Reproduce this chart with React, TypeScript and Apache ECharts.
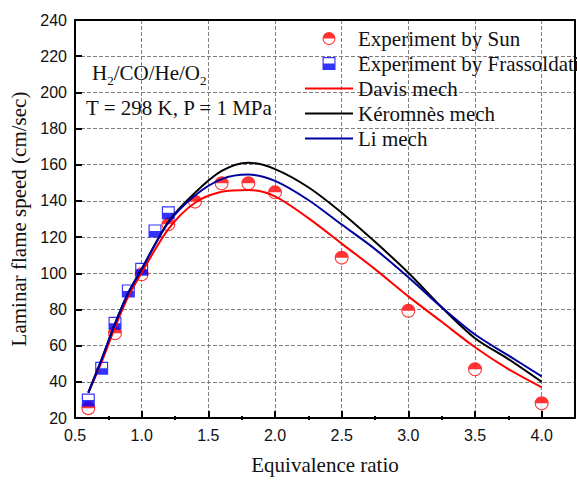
import React, { useEffect, useRef } from "react";
import * as echarts from "echarts";

const xSun = [0.6, 0.8, 1.0, 1.2, 1.4, 1.6, 1.8, 2.0, 2.5, 3.0, 3.5, 4.0];
const ySun = [26.5, 67.7, 100.1, 127.6, 140.1, 150.2, 150.2, 145.2, 109.3, 80.1, 47.9, 29.2];
const xFras = [0.6, 0.7, 0.8, 0.9, 1.0, 1.1, 1.2];
const yFras = [31, 48.4, 73.2, 91, 102.9, 124, 134];
const xModel = [0.6, 0.7, 0.8, 0.9, 1.0, 1.2, 1.4, 1.6, 1.8, 2.0, 2.25, 2.5, 2.75, 3.0, 3.25, 3.5, 3.75, 4.0];
const yDavis = [35, 52, 71, 88, 101, 125, 139.5, 145.5, 146.5, 143, 131, 117, 103, 88, 74, 60, 48, 38];
const yKeromnes = [35, 53.5, 73, 90, 103, 129, 145, 157, 161.5, 158, 148, 134, 118, 101, 82, 65, 53.5, 41];
const yLi = [35, 53.5, 73, 90, 103, 128.5, 143.5, 152.5, 155, 151.5, 141, 127.5, 114, 98.5, 82, 67, 55.5, 44];

const seriesNames = [
  "Experiment by Sun",
  "Experiment by Frassoldati",
  "Davis mech",
  "Kéromnès mech",
  "Li mech",
];

const SERIF = "Liberation Serif";
const SANS = "Liberation Sans";

// top half filled disk + bottom ring
const halfCircle =
  "path://M0,10 A10,10 0 0 1 20,10 A10,10 0 0 1 0,10 L1.6,10 A8.4,8.4 0 0 0 18.4,10 Z";
// bottom half filled square + top frame
const halfSquare =
  "path://M0,0 L20,0 L20,20 L0,20 Z M1.8,1.8 L1.8,10 L18.2,10 L18.2,1.8 Z";
const lineIcon = "path://M0,0 L48,0 L48,2 L0,2 Z";

const zip = (xs: number[], ys: number[]) => xs.map((x, i) => [x, ys[i]]);

const GRID = { left: 75, right: 2, top: 20, bottom: 60 };
const X_RANGE = { type: "value", min: 0.5, max: 4.25, interval: 0.5 };
const Y_RANGE = { type: "value", min: 20, max: 240, interval: 20 };

// layer 1: axes, grid lines, frame
function axesOption() {
  const frame = { show: true, onZero: false, lineStyle: { color: "#000", width: 2 } };
  const dashed = { show: true, lineStyle: { color: "#808080", type: "dashed", width: 1 } };
  return {
    animation: false,
    grid: GRID,
    xAxis: [
      {
        ...X_RANGE,
        name: "Equivalence ratio",
        nameLocation: "middle",
        nameGap: 36,
        nameTextStyle: { fontFamily: SERIF, fontSize: 21, color: "#111" },
        axisLine: frame,
        axisTick: { show: true, inside: true, length: 7, lineStyle: { color: "#000", width: 2 } },
        axisLabel: {
          fontFamily: SANS,
          fontSize: 16,
          color: "#111",
          margin: 9,
          showMaxLabel: false,
          formatter: (v: number) => v.toFixed(1),
        },
        splitLine: dashed,
      },
      {
        ...X_RANGE,
        position: "top",
        axisLine: frame,
        axisTick: { show: false },
        axisLabel: { show: false },
        splitLine: { show: false },
      },
    ],
    yAxis: [
      {
        ...Y_RANGE,
        name: "Laminar flame speed (cm/sec)",
        nameLocation: "middle",
        nameGap: 42,
        nameTextStyle: { fontFamily: SERIF, fontSize: 21, color: "#111" },
        axisLine: frame,
        axisTick: { show: true, inside: true, length: 7, lineStyle: { color: "#000", width: 2 } },
        axisLabel: { fontFamily: SANS, fontSize: 16, color: "#111", margin: 8 },
        splitLine: dashed,
      },
      {
        ...Y_RANGE,
        position: "right",
        axisLine: frame,
        axisTick: { show: false },
        axisLabel: { show: false },
        splitLine: { show: false },
      },
    ],
    series: [
      { type: "scatter", data: zip(xSun, ySun), symbolSize: 0, silent: true },
    ],
  };
}

// layer 2: minor ticks on the x axis
function minorOption() {
  return {
    animation: false,
    backgroundColor: "transparent",
    grid: GRID,
    xAxis: {
      ...X_RANGE,
      axisLine: { show: false },
      axisTick: { show: false, inside: true },
      minorTick: { show: true, splitNumber: 2, length: 4, lineStyle: { color: "#000", width: 2 } },
      axisLabel: { show: false },
      splitLine: { show: false },
    },
    yAxis: { ...Y_RANGE, show: false },
    series: [{ type: "scatter", data: zip(xSun, ySun), symbolSize: 0, silent: true }],
  };
}

// layer 3: data, legend, annotation
function dataOption() {
  const lineSeries = (name: string, ys: number[], color: string) => ({
    name,
    type: "line",
    data: zip(xModel, ys),
    smooth: 0.3,
    symbol: "none",
    showSymbol: false,
    z: 5,
    lineStyle: { color, width: 2 },
    itemStyle: { color },
  });
  return {
    animation: false,
    backgroundColor: "transparent",
    grid: GRID,
    xAxis: { ...X_RANGE, show: false },
    yAxis: { ...Y_RANGE, show: false },
    legend: {
      data: [
        { name: seriesNames[0], icon: halfCircle },
        { name: seriesNames[1], icon: halfSquare },
        { name: seriesNames[2], icon: lineIcon },
        { name: seriesNames[3], icon: lineIcon },
        { name: seriesNames[4], icon: lineIcon },
      ],
      orient: "vertical",
      left: 300,
      top: 23,
      itemWidth: 48,
      itemHeight: 13,
      itemGap: 4,
      textStyle: { fontFamily: SERIF, fontSize: 21, color: "#111", lineHeight: 21 },
    },
    graphic: [
      {
        type: "text",
        left: 92,
        top: 62,
        style: {
          text: "{n|H}{s|2}{n|/CO/He/O}{s|2}",
          rich: {
            n: { fontFamily: SERIF, fontSize: 21, fill: "#111", lineHeight: 28 },
            s: { fontFamily: SERIF, fontSize: 13, fill: "#111", verticalAlign: "bottom", lineHeight: 13 },
          },
        },
      },
      {
        type: "text",
        left: 86,
        top: 97,
        style: { text: "T = 298 K, P = 1 MPa", fontFamily: SERIF, fontSize: 21, fill: "#111" },
      },
    ],
    series: [
      {
        name: "Sun bg",
        type: "scatter",
        data: zip(xSun, ySun),
        symbol: "circle",
        symbolSize: 13,
        itemStyle: { color: "#fff" },
        silent: true,
        z: 2,
      },
      {
        name: "Frassoldati bg",
        type: "scatter",
        data: zip(xFras, yFras),
        symbol: "rect",
        symbolSize: 12,
        itemStyle: { color: "#fff" },
        silent: true,
        z: 2,
      },
      {
        name: seriesNames[0],
        type: "scatter",
        data: zip(xSun, ySun),
        symbol: halfCircle,
        symbolSize: 14,
        itemStyle: { color: "#ff0000" },
        z: 3,
      },
      {
        name: seriesNames[1],
        type: "scatter",
        data: zip(xFras, yFras),
        symbol: halfSquare,
        symbolSize: 13,
        itemStyle: { color: "#0000ff" },
        z: 3,
      },
      lineSeries(seriesNames[2], yDavis, "#ff0000"),
      lineSeries(seriesNames[3], yKeromnes, "#000000"),
      lineSeries(seriesNames[4], yLi, "#0000a0"),
    ],
  };
}

function Layer({ build }: { build: () => any }) {
  const ref = useRef<HTMLDivElement>(null);
  useEffect(() => {
    if (!ref.current) return;
    const chart = echarts.init(ref.current, undefined, { renderer: "svg" });
    chart.setOption(build());
    return () => chart.dispose();
  }, [build]);
  return (
    <div
      ref={ref}
      style={{ position: "absolute", left: 0, top: 0, width: 577, height: 480 }}
    />
  );
}

export default function App() {
  return (
    <div
      style={{ position: "fixed", left: 0, top: 0, width: 577, height: 480, background: "#fff" }}
    >
      <Layer build={axesOption} />
      <Layer build={minorOption} />
      <Layer build={dataOption} />
    </div>
  );
}
